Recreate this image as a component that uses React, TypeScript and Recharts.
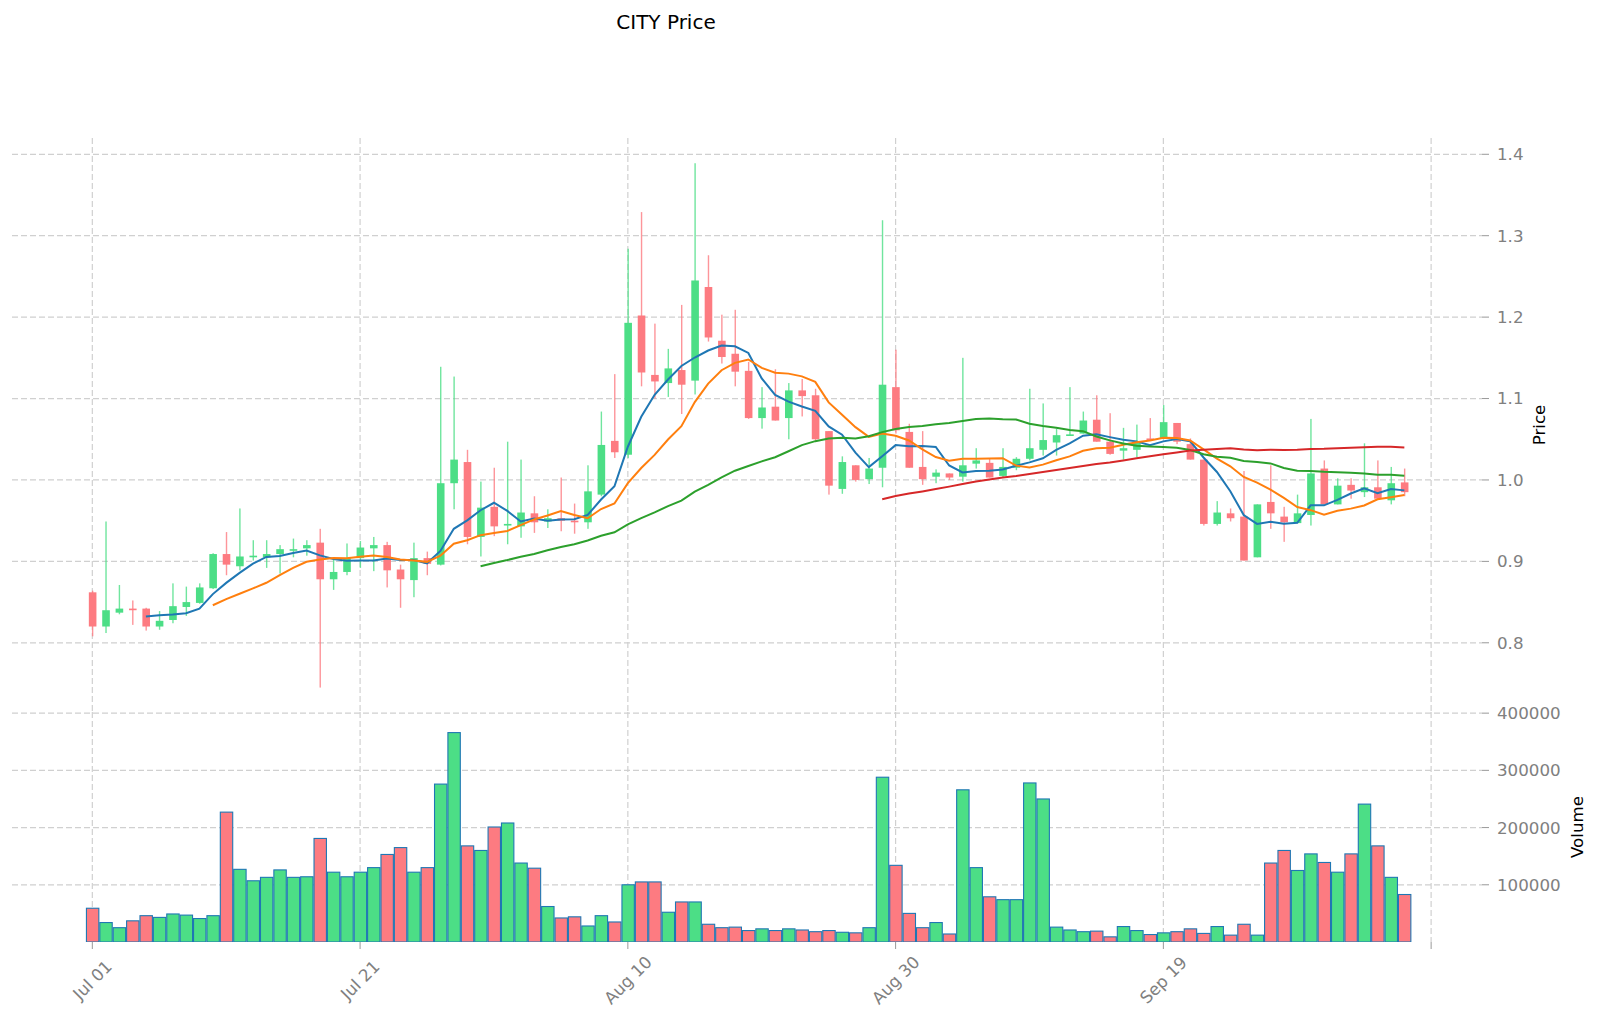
import React from 'react';
import { ComposedChart, Bar, Line, XAxis, YAxis, CartesianGrid } from 'recharts';

// ---- data ----
const openP = [
  0.862, 0.820, 0.837, 0.842, 0.842, 0.820, 0.828, 0.844, 0.849, 0.867,
  0.909, 0.894, 0.905, 0.905, 0.909, 0.913, 0.916, 0.923, 0.878, 0.887,
  0.904, 0.916, 0.920, 0.890, 0.877, 0.904, 0.896, 0.996, 1.022, 0.930,
  0.967, 0.944, 0.943, 0.959, 0.949, 0.953, 0.950, 0.948, 0.982, 1.048,
  1.031, 1.202, 1.129, 1.119, 1.135, 1.122, 1.237, 1.171, 1.155, 1.134,
  1.076, 1.090, 1.076, 1.110, 1.104, 1.060, 0.989, 1.018, 1.001, 1.015,
  1.114, 1.059, 1.016, 1.004, 1.008, 1.004, 1.020, 1.021, 1.005, 1.015,
  1.026, 1.037, 1.046, 1.054, 1.057, 1.074, 1.047, 1.036, 1.037, 1.051,
  1.051, 1.070, 1.044, 1.025, 0.946, 0.959, 0.955, 0.905, 0.973, 0.955,
  0.947, 0.957, 1.014, 0.970, 0.994, 0.985, 0.991, 0.975, 0.997,
];
const highP = [
  0.864, 0.949, 0.871, 0.852, 0.843, 0.839, 0.873, 0.869, 0.873, 0.910,
  0.936, 0.965, 0.926, 0.926, 0.920, 0.928, 0.926, 0.940, 0.902, 0.922,
  0.925, 0.930, 0.924, 0.896, 0.923, 0.912, 1.139, 1.127, 1.037, 0.998,
  1.015, 1.047, 1.025, 0.980, 0.964, 1.003, 0.971, 1.018, 1.084, 1.130,
  1.284, 1.329, 1.192, 1.161, 1.215, 1.389, 1.276, 1.203, 1.209, 1.145,
  1.114, 1.136, 1.119, 1.124, 1.112, 1.060, 1.029, 1.018, 1.027, 1.319,
  1.160, 1.069, 1.060, 1.013, 1.008, 1.150, 1.039, 1.026, 1.039, 1.028,
  1.112, 1.094, 1.063, 1.114, 1.084, 1.104, 1.082, 1.064, 1.068, 1.076,
  1.092, 1.070, 1.051, 1.025, 0.974, 0.965, 1.011, 0.970, 1.018, 0.967,
  0.982, 1.075, 1.024, 1.002, 1.002, 1.045, 1.024, 1.016, 1.014,
];
const lowP = [
  0.808, 0.812, 0.835, 0.822, 0.815, 0.816, 0.824, 0.833, 0.848, 0.866,
  0.883, 0.889, 0.901, 0.892, 0.885, 0.905, 0.907, 0.745, 0.865, 0.883,
  0.892, 0.888, 0.868, 0.843, 0.856, 0.883, 0.895, 0.964, 0.921, 0.906,
  0.931, 0.921, 0.929, 0.935, 0.941, 0.937, 0.934, 0.940, 0.980, 1.027,
  1.027, 1.115, 1.100, 1.102, 1.081, 1.105, 1.170, 1.143, 1.115, 1.075,
  1.063, 1.073, 1.050, 1.078, 1.048, 0.982, 0.983, 0.998, 0.995, 0.991,
  1.057, 1.015, 0.994, 0.996, 1.000, 0.998, 1.014, 1.003, 1.003, 1.012,
  1.024, 1.030, 1.030, 1.054, 1.057, 1.047, 1.031, 1.025, 1.028, 1.048,
  1.051, 1.044, 1.025, 0.944, 0.944, 0.949, 0.901, 0.905, 0.940, 0.924,
  0.947, 0.944, 0.970, 0.970, 0.977, 0.979, 0.977, 0.970, 0.980,
];
const closeP = [
  0.820, 0.840, 0.842, 0.840, 0.820, 0.827, 0.845, 0.850, 0.868, 0.909,
  0.896, 0.906, 0.907, 0.909, 0.915, 0.915, 0.920, 0.878, 0.887, 0.904,
  0.917, 0.920, 0.889, 0.878, 0.904, 0.897, 0.996, 1.025, 0.930, 0.966,
  0.943, 0.946, 0.960, 0.948, 0.953, 0.950, 0.948, 0.986, 1.043, 1.034,
  1.193, 1.132, 1.121, 1.137, 1.117, 1.245, 1.175, 1.151, 1.133, 1.076,
  1.089, 1.073, 1.110, 1.103, 1.050, 0.993, 1.022, 1.000, 1.014, 1.117,
  1.061, 1.015, 1.001, 1.009, 1.003, 1.018, 1.024, 1.003, 1.016, 1.026,
  1.039, 1.049, 1.055, 1.056, 1.073, 1.047, 1.032, 1.039, 1.046, 1.049,
  1.071, 1.047, 1.025, 0.946, 0.960, 0.953, 0.901, 0.970, 0.959, 0.948,
  0.959, 1.008, 0.970, 0.993, 0.987, 0.991, 0.977, 0.996, 0.985,
];
const volumes = [
  59000, 34000, 25000, 37000, 46000, 43000, 49000, 47000, 41000, 46000,
  227000, 127000, 107000, 113000, 126000, 113000, 114000, 181000, 122000, 114000,
  122000, 130000, 153000, 165000, 122000, 130000, 276000, 366000, 168000, 160000,
  201000, 208000, 138000, 129000, 62000, 42000, 44000, 28000, 46000, 35000,
  100000, 105000, 105000, 52000, 70000, 70000, 31000, 25000, 26000, 20000,
  23000, 20000, 23000, 21000, 18000, 20000, 17000, 16000, 25000, 288000,
  134000, 50000, 25000, 34000, 14000, 266000, 130000, 79000, 74000, 74000,
  278000, 250000, 26000, 21000, 18000, 19000, 9000, 27000, 20000, 13000,
  16000, 18000, 23000, 15000, 27000, 12000, 31000, 12000, 138000, 160000,
  125000, 154000, 139000, 122000, 154000, 241000, 168000, 113000, 83000,
];

const xTicks = [0, 20, 40, 60, 80, 100];
const xTickLabels = ['Jul 01', 'Jul 21', 'Aug 10', 'Aug 30', 'Sep 19', ''];
const priceTicks = [0.8, 0.9, 1.0, 1.1, 1.2, 1.3, 1.4];
const volumeTicks = [100000, 200000, 300000, 400000];
const maWindows = [5, 10, 30, 60];
const maColors = ['#1f77b4', '#ff7f0e', '#2ca02c', '#d62728'];

// ---- styling ----
const UP = '#4cde86';
const DOWN = '#fd7b81';
const FONT = 'DejaVu Sans';
const TICK_COLOR = '#808080';
const GRID = '#d0d0d0';

function movingAverage(values: number[], n: number): (number | null)[] {
  return values.map((_, i) => {
    if (i < n - 1) return null;
    let s = 0;
    for (let k = i - n + 1; k <= i; k++) s += values[k];
    return s / n;
  });
}

const maSeries = maWindows.map((w) => movingAverage(closeP, w));

const data = openP.map((o, i) => {
  const c = closeP[i];
  const row: any = {
    idx: i,
    open: o,
    high: highP[i],
    low: lowP[i],
    close: c,
    wick: [lowP[i], highP[i]],
    body: [Math.min(o, c), Math.max(o, c)],
    up: c >= o,
    volume: volumes[i],
  };
  maWindows.forEach((w, k) => {
    row['ma' + w] = maSeries[k][i];
  });
  return row;
});

const X_DOMAIN: [number, number] = [-6, 103.8];

const WickShape = (props: any) => {
  const { x, y, width, height } = props;
  const p = props.payload || props;
  const cx = x + width / 2;
  const top = Math.min(y, y + height);
  const h = Math.max(Math.abs(height), 1);
  return <rect x={cx - 0.7} y={top} width={1.4} height={h} fill={p.up ? UP : DOWN} fillOpacity={0.8} />;
};

const BodyShape = (props: any) => {
  const { x, y, width, height } = props;
  const p = props.payload || props;
  const cx = x + width / 2;
  const top = Math.min(y, y + height);
  const h = Math.max(Math.abs(height), 1.2);
  return <rect x={cx - 3.8} y={top} width={7.6} height={h} fill={p.up ? UP : DOWN} />;
};

const VolShape = (props: any) => {
  const { x, y, width, height } = props;
  const p = props.payload || props;
  const cx = x + width / 2;
  const top = Math.min(y, y + height);
  const h = Math.abs(height);
  return (
    <rect
      x={cx - 6.2}
      y={top}
      width={12.4}
      height={h}
      fill={p.up ? UP : DOWN}
      stroke="#1f77b4"
      strokeWidth={1.1}
    />
  );
};

const VOL_TOP_PAD = 20;

const XTick = (props: any) => {
  const { x, payload } = props;
  const i = xTicks.indexOf(payload.value);
  const label = i >= 0 ? xTickLabels[i] : '';
  const cy = 268 + VOL_TOP_PAD;
  return (
    <text
      x={x}
      y={cy}
      transform={`rotate(-45, ${x}, ${cy})`}
      textAnchor="middle"
      dominantBaseline="central"
      fill={TICK_COLOR}
      fontSize={16.7}
      fontFamily={FONT}
    >
      {label}
    </text>
  );
};

const EmptyTick = () => <g />;

const tickStyle = { fill: TICK_COLOR, fontSize: 16.7, fontFamily: FONT };

export default function App() {
  return (
    <div style={{ position: 'absolute', left: 0, top: 0, width: 1600, height: 1023, background: '#fff' }}>
      <div style={{ position: 'absolute', left: 0, top: 0 }}>
        <ComposedChart width={1600} height={712} data={data} margin={{ top: 138, right: 0, bottom: 0, left: 12 }}>
          <CartesianGrid stroke={GRID} strokeDasharray="6 3" strokeWidth={1.2} syncWithTicks />
          <XAxis
            dataKey="idx"
            type="number"
            domain={X_DOMAIN}
            ticks={xTicks}
            interval={0}
            allowDataOverflow
            tick={<EmptyTick />}
            tickLine={false}
            axisLine={false}
            height={0}
          />
          <XAxis xAxisId="body" dataKey="idx" type="number" domain={X_DOMAIN} allowDataOverflow hide />
          <YAxis
            orientation="right"
            type="number"
            domain={[0.715, 1.42]}
            ticks={priceTicks}
            interval={0}
            allowDataOverflow
            width={118}
            axisLine={false}
            tickLine={{ stroke: '#999999' }}
            tickSize={7}
            tickMargin={8}
            tick={tickStyle}
            tickFormatter={(v: number) => v.toFixed(1)}
          />
          <Bar dataKey="wick" barSize={2} shape={WickShape} isAnimationActive={false} />
          <Bar dataKey="body" xAxisId="body" barSize={8} shape={BodyShape} isAnimationActive={false} />
          {maWindows.map((w, k) => (
            <Line
              key={w}
              dataKey={'ma' + w}
              type="linear"
              stroke={maColors[k]}
              strokeWidth={2}
              dot={false}
              activeDot={false}
              connectNulls={false}
              isAnimationActive={false}
            />
          ))}
        </ComposedChart>
      </div>
      <div style={{ position: 'absolute', left: 0, top: 712 - VOL_TOP_PAD }}>
        <ComposedChart
          width={1600}
          height={311 + VOL_TOP_PAD}
          data={data}
          margin={{ top: VOL_TOP_PAD, right: 0, bottom: 21, left: 12 }}
        >
          <CartesianGrid stroke={GRID} strokeDasharray="6 3" strokeWidth={1.2} syncWithTicks />
          <XAxis
            dataKey="idx"
            type="number"
            domain={X_DOMAIN}
            ticks={xTicks}
            interval={0}
            allowDataOverflow
            axisLine={false}
            tickLine={{ stroke: '#999999' }}
            tickSize={7}
            tick={<XTick />}
            height={60}
          />
          <YAxis
            orientation="right"
            type="number"
            domain={[0, 402000]}
            ticks={volumeTicks}
            interval={0}
            allowDataOverflow
            width={118}
            axisLine={false}
            tickLine={{ stroke: '#999999' }}
            tickSize={7}
            tickMargin={8}
            tick={tickStyle}
          />
          <Bar dataKey="volume" barSize={12} shape={VolShape} isAnimationActive={false} />
        </ComposedChart>
      </div>
      <svg
        width={1600}
        height={1023}
        style={{ position: 'absolute', left: 0, top: 0, pointerEvents: 'none' }}
      >
        <text x={666} y={29} textAnchor="middle" fontSize={20} fontFamily={FONT} fill="#000">
          CITY Price
        </text>
        <text
          x={1539}
          y={425}
          transform="rotate(-90, 1539, 425)"
          textAnchor="middle"
          dominantBaseline="central"
          fontSize={16.7}
          fontFamily={FONT}
          fill="#000"
        >
          Price
        </text>
        <text
          x={1577}
          y={827}
          transform="rotate(-90, 1577, 827)"
          textAnchor="middle"
          dominantBaseline="central"
          fontSize={16.7}
          fontFamily={FONT}
          fill="#000"
        >
          Volume
        </text>
      </svg>
    </div>
  );
}
